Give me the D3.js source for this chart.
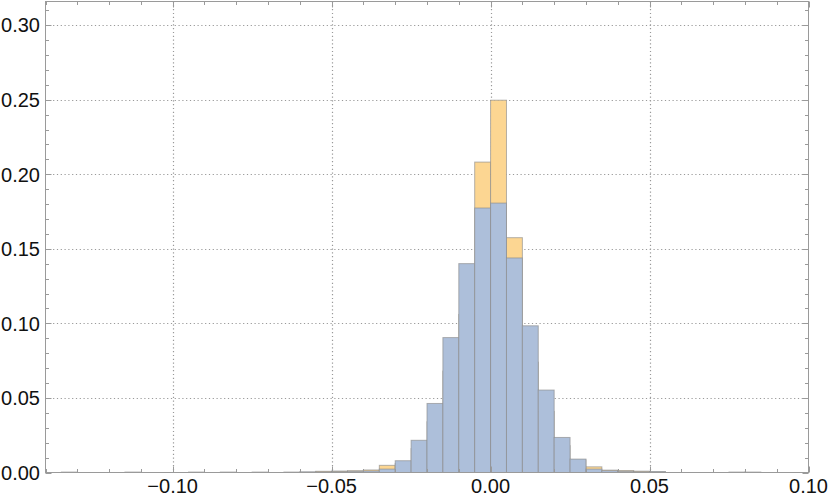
<!DOCTYPE html>
<html><head><meta charset="utf-8">
<script src="https://cdn.jsdelivr.net/npm/d3@7"></script>
<style>body{margin:0;background:#fff}svg{display:block}text{font-family:"Liberation Sans",Arial,sans-serif}</style>
</head><body>
<svg id="c" width="830" height="501"></svg>
<script>
// Bin left edges (bin width 0.005)
const binLefts = [-0.135,-0.130,-0.125,-0.120,-0.115,-0.110,-0.105,-0.100,-0.095,-0.090,
  -0.085,-0.080,-0.075,-0.070,-0.065,-0.060,-0.055,-0.050,-0.045,-0.040,
  -0.035,-0.030,-0.025,-0.020,-0.015,-0.010,-0.005,0.000,0.005,0.010,
  0.015,0.020,0.025,0.030,0.035,0.040,0.045,0.050,0.055,0.060,
  0.065,0.070,0.075,0.080,0.085];
const binWidth = 0.005;
// series drawn in front (blue)
const blueValues = [0.0003,0,0,0,0.0003,0,0,0,0.0003,0,
  0.0003,0,0.0003,0,0.0003,0.0005,0.0004,0.0006,0.0008,0.0010,
  0.0023,0.0079,0.0216,0.0463,0.0905,0.1401,0.1774,0.1807,0.1439,0.0984,
  0.0553,0.0235,0.0090,0.0023,0.0012,0.0008,0.0005,0.0006,0,0,
  0,0,0.0003,0.0003,0];
// series drawn behind (orange)
const orangeValues = [0,0,0,0,0,0,0,0,0,0,
  0,0,0,0,0,0,0.0008,0.0010,0.0012,0.0017,
  0.0048,0.0060,0.0160,0.0340,0.0680,0.1060,0.2082,0.2497,0.1575,0.0740,
  0.0410,0.0180,0.0085,0.0038,0.0016,0.0013,0.0009,0.0004,0,0,
  0,0,0,0,0];
const xMajorTicks = [-0.10,-0.05,0.00,0.05,0.10];
const yMajorTicks = [0.00,0.05,0.10,0.15,0.20,0.25,0.30];
const xMinorTicks = d3.range(-14,11).map(d=>d/100);
const yMinorTicks = d3.range(0,32).map(d=>d/100);

const W=830,H=501;
const L=45.5,R=808.5,T=1.5,B=472.5;
const svg=d3.select("#c");
const x=d3.scaleLinear().domain([-0.14,0.10]).range([L,R]);
const y=d3.scaleLinear().domain([0,0.3159]).range([B,T]);

// grid
const grid=svg.append("g").attr("stroke","#999").attr("stroke-width",1.2).attr("stroke-dasharray","1.2,2.6").attr("fill","none");
xMajorTicks.filter(v=>x(v)>L+1&&x(v)<R-1).forEach(v=>{
  grid.append("line").attr("x1",Math.round(x(v))+0.5).attr("x2",Math.round(x(v))+0.5).attr("y1",T).attr("y2",B);
});
yMajorTicks.filter(v=>y(v)<B-1&&y(v)>T+1).forEach(v=>{
  grid.append("line").attr("y1",Math.round(y(v))+0.5).attr("y2",Math.round(y(v))+0.5).attr("x1",L).attr("x2",R);
});

function drawSeries(vals,fill){
  const data=binLefts.map((b,i)=>({b,v:vals[i]})).filter(d=>d.v>0);
  svg.append("g").selectAll("rect").data(data).join("rect")
    .attr("x",d=>x(d.b)).attr("width",d=>x(d.b+binWidth)-x(d.b))
    .attr("y",d=>y(d.v)).attr("height",d=>y(0)-y(d.v))
    .attr("fill",fill).attr("stroke","#8c8c8c").attr("stroke-opacity",0.65).attr("stroke-width",1);
}
drawSeries(orangeValues,"#fcd692");
drawSeries(blueValues,"#adbfda");

// frame
svg.append("rect").attr("x",L).attr("y",T).attr("width",R-L).attr("height",B-T)
  .attr("fill","none").attr("stroke","#9a9a9a").attr("stroke-width",1);

// ticks
const tk=svg.append("g").attr("stroke","#9a9a9a").attr("stroke-width",1);
function xtick(v,len){const px=Math.round(x(v))+0.5;
  tk.append("line").attr("x1",px).attr("x2",px).attr("y1",B).attr("y2",B-len);
  tk.append("line").attr("x1",px).attr("x2",px).attr("y1",T).attr("y2",T+len);}
function ytick(v,len){const py=Math.round(y(v))+0.5;
  tk.append("line").attr("y1",py).attr("y2",py).attr("x1",L).attr("x2",L+len);
  tk.append("line").attr("y1",py).attr("y2",py).attr("x1",R).attr("x2",R-len);}
const isMaj=(v,arr)=>arr.some(m=>Math.abs(m-v)<1e-9);
xMinorTicks.forEach(v=>xtick(v,isMaj(v,xMajorTicks)?6:3.5));
yMinorTicks.forEach(v=>ytick(v,isMaj(v,yMajorTicks)?6:3.5));

// labels
const fmt=d3.format(".2f");
svg.append("g").selectAll("text").data(xMajorTicks).join("text")
  .attr("x",d=>x(d)).attr("y",493).attr("text-anchor","middle")
  .attr("font-size",20).attr("fill","#111").text(d=>fmt(d));
svg.append("g").selectAll("text").data(yMajorTicks).join("text")
  .attr("x",40).attr("y",d=>y(d)).attr("dy","0.36em").attr("text-anchor","end")
  .attr("font-size",20).attr("fill","#111").text(d=>fmt(d));
</script>
</body></html>
